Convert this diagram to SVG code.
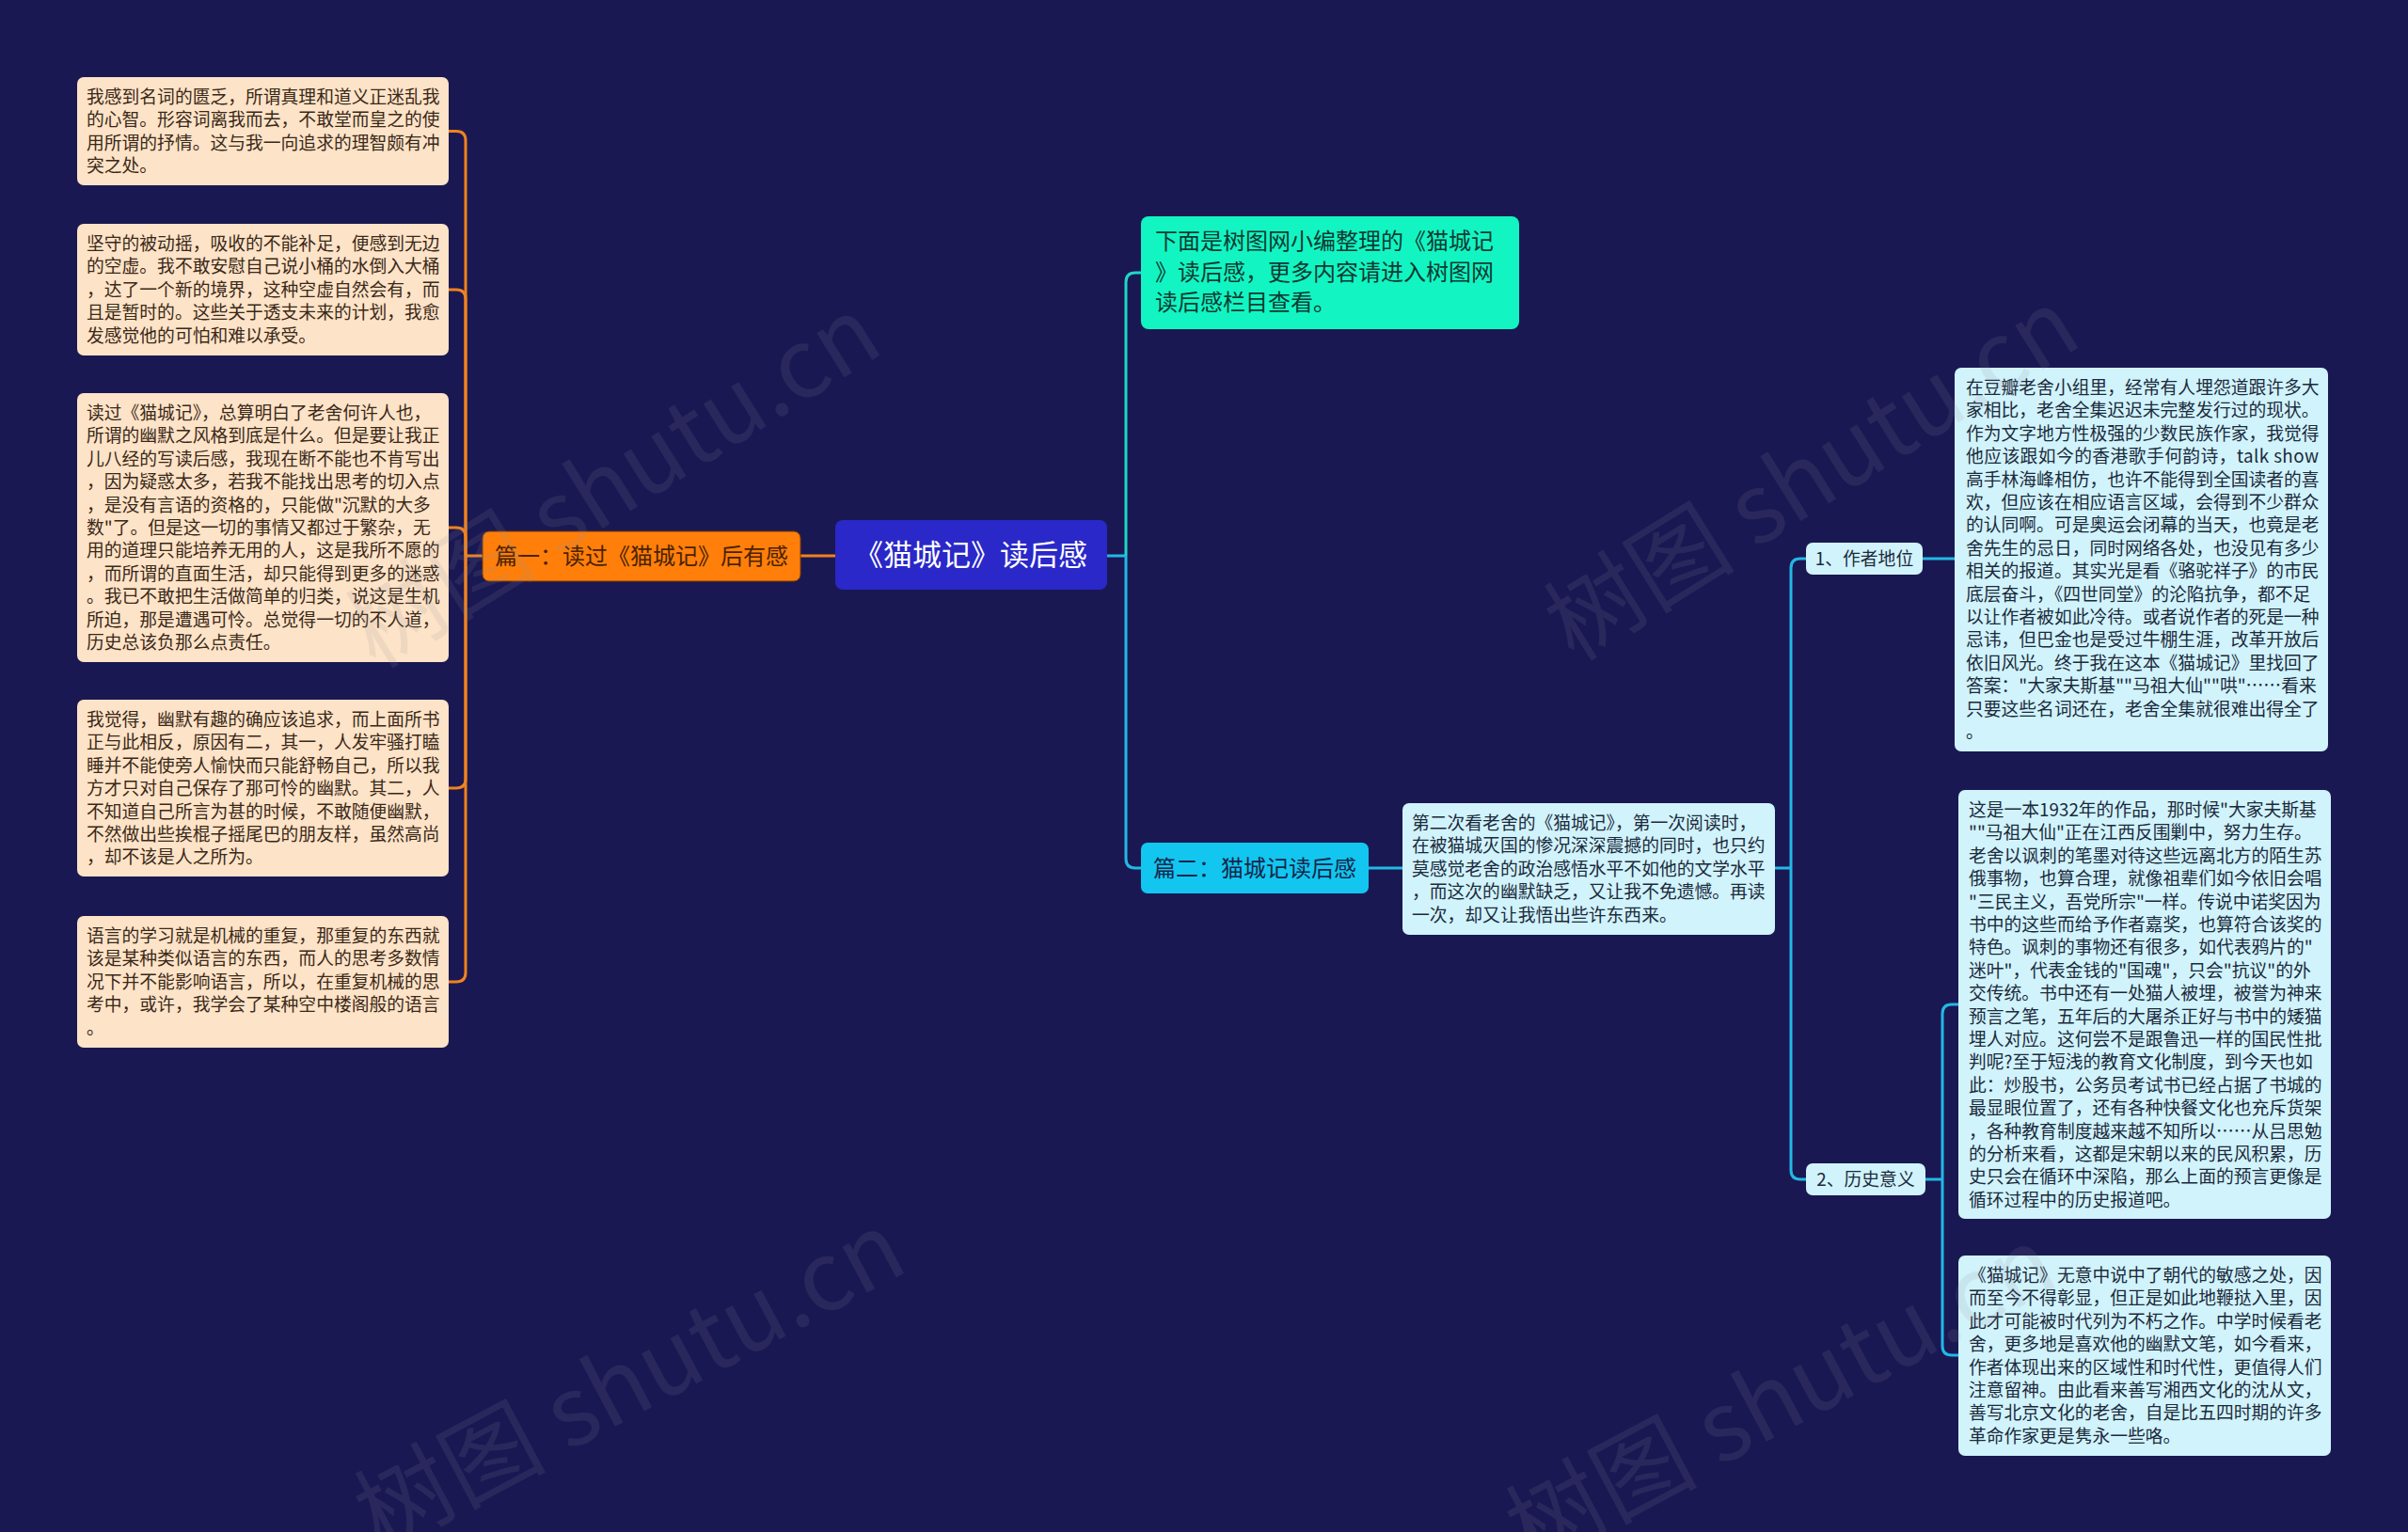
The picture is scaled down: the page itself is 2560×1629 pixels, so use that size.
<svg xmlns="http://www.w3.org/2000/svg" width="2560" height="1629" viewBox="0 0 2560 1629">
<style>
text{font-family:"Noto Sans CJK SC","Noto Sans",sans-serif}
.peach{fill:#fde3c7}
.ptxt{font-size:18.8px;fill:#3a2818}
.pale{fill:#d1f3fb}
.ctxt{font-size:18.8px;fill:#1b2a3c}
.oc{fill:none;stroke:#f0821e;stroke-width:3}
.cc{fill:none;stroke:#22b8e6;stroke-width:3}
.tc{fill:none;stroke:#1fd6c6;stroke-width:3}
.wm{font-size:102px;fill:#9090a0;opacity:0.13;font-family:"Noto Sans CJK SC",sans-serif}
</style>
<rect x="0" y="0" width="2560" height="1629" fill="#1a1852"/>

<g id="connectors">
<path class="oc" d="M888 591 H851"/>
<path class="oc" d="M513 591 H495"/>
<path class="oc" d="M495 591 V149.5 Q495 139.5 485 139.5 H477"/>
<path class="oc" d="M495 591 V318 Q495 308 485 308 H477"/>
<path class="oc" d="M495 591 V571 Q495 561 485 561 H477"/>
<path class="oc" d="M495 591 V828 Q495 838 485 838 H477"/>
<path class="oc" d="M495 591 V1034 Q495 1044 485 1044 H477"/>
<path class="cc" d="M1177 591 H1197"/>
<path class="tc" d="M1197 591 V300 Q1197 290 1207 290 H1213"/>
<path class="cc" d="M1197 591 V913 Q1197 923 1207 923 H1213"/>
<path class="cc" d="M1455 923 H1491"/>
<path class="cc" d="M1887 923 H1904"/>
<path class="cc" d="M1904 923 V604 Q1904 594 1914 594 H1920"/>
<path class="cc" d="M1904 923 V1244 Q1904 1254 1914 1254 H1920"/>
<path class="cc" d="M2044 594 H2078"/>
<path class="cc" d="M2047 1254 H2065"/>
<path class="cc" d="M2065 1254 V1078 Q2065 1068 2075 1068 H2082"/>
<path class="cc" d="M2065 1254 V1431 Q2065 1441 2075 1441 H2082"/>
</g>

<g id="root">
<rect x="888" y="553" width="289" height="74" rx="8" fill="#2a28c8"/>
<text x="1032" y="601" font-size="31" fill="#ffffff" text-anchor="middle">《猫城记》读后感</text>
</g>

<g id="pian1">
<rect x="513" y="565" width="338" height="53" rx="7" fill="#ff7f0a" stroke="#7a3a00" stroke-width="1"/>
<text x="682" y="600" font-size="24" fill="#4a2200" text-anchor="middle">篇一：读过《猫城记》后有感</text>
</g>

<g id="left1">
<rect class="peach" x="82" y="82" width="395" height="115" rx="7"/>
<text class="ptxt" x="92" y="110"><tspan x="92">我感到名词的匮乏，所谓真理和道义正迷乱我</tspan><tspan x="92" dy="24.4">的心智。形容词离我而去，不敢堂而皇之的使</tspan><tspan x="92" dy="24.4">用所谓的抒情。这与我一向追求的理智颇有冲</tspan><tspan x="92" dy="24.4">突之处。</tspan></text>
</g>

<g id="left2">
<rect class="peach" x="82" y="238" width="395" height="140" rx="7"/>
<text class="ptxt" x="92" y="266"><tspan x="92">坚守的被动摇，吸收的不能补足，便感到无边</tspan><tspan x="92" dy="24.4">的空虚。我不敢安慰自己说小桶的水倒入大桶</tspan><tspan x="92" dy="24.4">，达了一个新的境界，这种空虚自然会有，而</tspan><tspan x="92" dy="24.4">且是暂时的。这些关于透支未来的计划，我愈</tspan><tspan x="92" dy="24.4">发感觉他的可怕和难以承受。</tspan></text>
</g>

<g id="left3">
<rect class="peach" x="82" y="418" width="395" height="286" rx="7"/>
<text class="ptxt" x="92" y="446"><tspan x="92">读过《猫城记》，总算明白了老舍何许人也，</tspan><tspan x="92" dy="24.4">所谓的幽默之风格到底是什么。但是要让我正</tspan><tspan x="92" dy="24.4">儿八经的写读后感，我现在断不能也不肯写出</tspan><tspan x="92" dy="24.4">，因为疑惑太多，若我不能找出思考的切入点</tspan><tspan x="92" dy="24.4">，是没有言语的资格的，只能做"沉默的大多</tspan><tspan x="92" dy="24.4">数"了。但是这一切的事情又都过于繁杂，无</tspan><tspan x="92" dy="24.4">用的道理只能培养无用的人，这是我所不愿的</tspan><tspan x="92" dy="24.4">，而所谓的直面生活，却只能得到更多的迷惑</tspan><tspan x="92" dy="24.4">。我已不敢把生活做简单的归类，说这是生机</tspan><tspan x="92" dy="24.4">所迫，那是遭遇可怜。总觉得一切的不人道，</tspan><tspan x="92" dy="24.4">历史总该负那么点责任。</tspan></text>
</g>

<g id="left4">
<rect class="peach" x="82" y="744" width="395" height="188" rx="7"/>
<text class="ptxt" x="92" y="772"><tspan x="92">我觉得，幽默有趣的确应该追求，而上面所书</tspan><tspan x="92" dy="24.4">正与此相反，原因有二，其一，人发牢骚打瞌</tspan><tspan x="92" dy="24.4">睡并不能使旁人愉快而只能舒畅自己，所以我</tspan><tspan x="92" dy="24.4">方才只对自己保存了那可怜的幽默。其二，人</tspan><tspan x="92" dy="24.4">不知道自己所言为甚的时候，不敢随便幽默，</tspan><tspan x="92" dy="24.4">不然做出些挨棍子摇尾巴的朋友样，虽然高尚</tspan><tspan x="92" dy="24.4">，却不该是人之所为。</tspan></text>
</g>

<g id="left5">
<rect class="peach" x="82" y="974" width="395" height="140" rx="7"/>
<text class="ptxt" x="92" y="1002"><tspan x="92">语言的学习就是机械的重复，那重复的东西就</tspan><tspan x="92" dy="24.4">该是某种类似语言的东西，而人的思考多数情</tspan><tspan x="92" dy="24.4">况下并不能影响语言，所以，在重复机械的思</tspan><tspan x="92" dy="24.4">考中，或许，我学会了某种空中楼阁般的语言</tspan><tspan x="92" dy="24.4">。</tspan></text>
</g>

<g id="intro">
<rect x="1213" y="230" width="402" height="120" rx="8" fill="#12f5c2"/>
<text font-size="24" fill="#0e3a32" x="1228" y="265"><tspan x="1228">下面是树图网小编整理的《猫城记</tspan><tspan x="1228" dy="32.7">》读后感，更多内容请进入树图网</tspan><tspan x="1228" dy="32.7">读后感栏目查看。</tspan></text>
</g>

<g id="pian2">
<rect x="1213" y="896" width="242" height="54" rx="7" fill="#12c6f0"/>
<text x="1334" y="932" font-size="24" fill="#15264a" text-anchor="middle">篇二：猫城记读后感</text>
</g>

<g id="second">
<rect class="pale" x="1491" y="854" width="396" height="140" rx="7"/>
<text class="ctxt" x="1501" y="882"><tspan x="1501">第二次看老舍的《猫城记》，第一次阅读时，</tspan><tspan x="1501" dy="24.4">在被猫城灭国的惨况深深震撼的同时，也只约</tspan><tspan x="1501" dy="24.4">莫感觉老舍的政治感悟水平不如他的文学水平</tspan><tspan x="1501" dy="24.4">，而这次的幽默缺乏，又让我不免遗憾。再读</tspan><tspan x="1501" dy="24.4">一次，却又让我悟出些许东西来。</tspan></text>
</g>

<g id="label1">
<rect class="pale" x="1920" y="577" width="124" height="34" rx="7"/>
<text class="ctxt" x="1982" y="601" text-anchor="middle">1、作者地位</text>
</g>

<g id="label2">
<rect class="pale" x="1920" y="1237" width="127" height="34" rx="7"/>
<text class="ctxt" x="1983.5" y="1261" text-anchor="middle">2、历史意义</text>
</g>

<g id="author">
<rect class="pale" x="2078" y="391" width="397" height="408" rx="7"/>
<text class="ctxt" x="2090" y="419"><tspan x="2090">在豆瓣老舍小组里，经常有人埋怨道跟许多大</tspan><tspan x="2090" dy="24.4">家相比，老舍全集迟迟未完整发行过的现状。</tspan><tspan x="2090" dy="24.4">作为文字地方性极强的少数民族作家，我觉得</tspan><tspan x="2090" dy="24.4" textLength="375" lengthAdjust="spacing">他应该跟如今的香港歌手何韵诗，talk  show</tspan><tspan x="2090" dy="24.4">高手林海峰相仿，也许不能得到全国读者的喜</tspan><tspan x="2090" dy="24.4">欢，但应该在相应语言区域，会得到不少群众</tspan><tspan x="2090" dy="24.4">的认同啊。可是奥运会闭幕的当天，也竟是老</tspan><tspan x="2090" dy="24.4">舍先生的忌日，同时网络各处，也没见有多少</tspan><tspan x="2090" dy="24.4">相关的报道。其实光是看《骆驼祥子》的市民</tspan><tspan x="2090" dy="24.4">底层奋斗，《四世同堂》的沦陷抗争，都不足</tspan><tspan x="2090" dy="24.4">以让作者被如此冷待。或者说作者的死是一种</tspan><tspan x="2090" dy="24.4">忌讳，但巴金也是受过牛棚生涯，改革开放后</tspan><tspan x="2090" dy="24.4">依旧风光。终于我在这本《猫城记》里找回了</tspan><tspan x="2090" dy="24.4">答案："大家夫斯基""马祖大仙""哄"……看来</tspan><tspan x="2090" dy="24.4">只要这些名词还在，老舍全集就很难出得全了</tspan><tspan x="2090" dy="24.4">。</tspan></text>
</g>

<g id="history1">
<rect class="pale" x="2082" y="840" width="396" height="456" rx="7"/>
<text class="ctxt" x="2093" y="868"><tspan x="2093">这是一本1932年的作品，那时候"大家夫斯基</tspan><tspan x="2093" dy="24.4">""马祖大仙"正在江西反围剿中，努力生存。</tspan><tspan x="2093" dy="24.4">老舍以讽刺的笔墨对待这些远离北方的陌生苏</tspan><tspan x="2093" dy="24.4">俄事物，也算合理，就像祖辈们如今依旧会唱</tspan><tspan x="2093" dy="24.4">"三民主义，吾党所宗"一样。传说中诺奖因为</tspan><tspan x="2093" dy="24.4">书中的这些而给予作者嘉奖，也算符合该奖的</tspan><tspan x="2093" dy="24.4">特色。讽刺的事物还有很多，如代表鸦片的"</tspan><tspan x="2093" dy="24.4">迷叶"，代表金钱的"国魂"，只会"抗议"的外</tspan><tspan x="2093" dy="24.4">交传统。书中还有一处猫人被埋，被誉为神来</tspan><tspan x="2093" dy="24.4">预言之笔，五年后的大屠杀正好与书中的矮猫</tspan><tspan x="2093" dy="24.4">埋人对应。这何尝不是跟鲁迅一样的国民性批</tspan><tspan x="2093" dy="24.4">判呢?至于短浅的教育文化制度，到今天也如</tspan><tspan x="2093" dy="24.4">此：炒股书，公务员考试书已经占据了书城的</tspan><tspan x="2093" dy="24.4">最显眼位置了，还有各种快餐文化也充斥货架</tspan><tspan x="2093" dy="24.4">，各种教育制度越来越不知所以……从吕思勉</tspan><tspan x="2093" dy="24.4">的分析来看，这都是宋朝以来的民风积累，历</tspan><tspan x="2093" dy="24.4">史只会在循环中深陷，那么上面的预言更像是</tspan><tspan x="2093" dy="24.4">循环过程中的历史报道吧。</tspan></text>
</g>

<g id="history2">
<rect class="pale" x="2082" y="1335" width="396" height="213" rx="7"/>
<text class="ctxt" x="2093" y="1363"><tspan x="2093">《猫城记》无意中说中了朝代的敏感之处，因</tspan><tspan x="2093" dy="24.4">而至今不得彰显，但正是如此地鞭挞入里，因</tspan><tspan x="2093" dy="24.4">此才可能被时代列为不朽之作。中学时候看老</tspan><tspan x="2093" dy="24.4">舍，更多地是喜欢他的幽默文笔，如今看来，</tspan><tspan x="2093" dy="24.4">作者体现出来的区域性和时代性，更值得人们</tspan><tspan x="2093" dy="24.4">注意留神。由此看来善写湘西文化的沈从文，</tspan><tspan x="2093" dy="24.4">善写北京文化的老舍，自是比五四时期的许多</tspan><tspan x="2093" dy="24.4">革命作家更是隽永一些咯。</tspan></text>
</g>

<g id="watermarks">
<text class="wm" x="653" y="548" text-anchor="middle" transform="rotate(-32 653 514)">树图 shutu.cn</text>
<text class="wm" x="1927" y="540" text-anchor="middle" transform="rotate(-32 1927 506)">树图 shutu.cn</text>
<text class="wm" x="670" y="1504" text-anchor="middle" transform="rotate(-28 670 1470)">树图 shutu.cn</text>
<text class="wm" x="1894" y="1520" text-anchor="middle" transform="rotate(-28 1894 1486)">树图 shutu.cn</text>
</g>
</svg>
